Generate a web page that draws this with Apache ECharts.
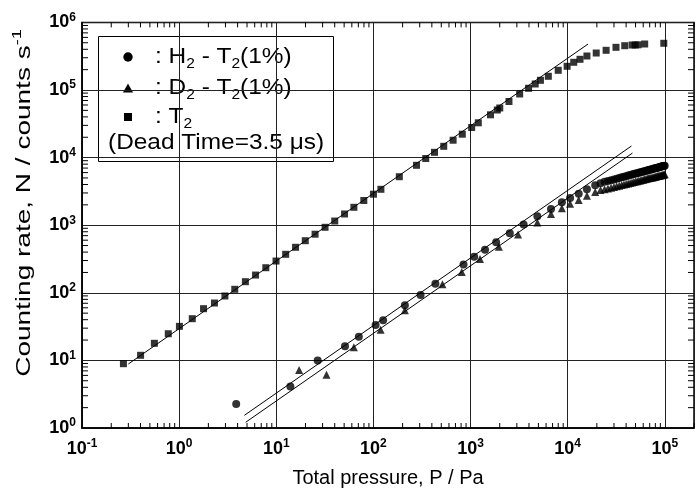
<!DOCTYPE html>
<html><head><meta charset="utf-8">
<script src="https://cdn.jsdelivr.net/npm/echarts@6/dist/echarts.min.js"></script>
<style>html,body{margin:0;padding:0;background:#fff}#c{width:697px;height:495px}</style>
</head><body><div id="c"></div>
<script>
const FONT = '"Liberation Sans", Arial, Helvetica, sans-serif';

// Tick label exponents
const xTickExponents = [-1, 0, 1, 2, 3, 4, 5];
const yTickExponents = [0, 1, 2, 3, 4, 5, 6];

// T2 (squares): [P / Pa, N / counts s^-1]
const t2Data = [[0.267,8.94],[0.401,11.9],[0.556,17.9],[0.773,24.8],[1.007,31.9],[1.366,41.4],[1.784,58.2],[2.31,70.6],[2.96,89.7],[3.74,112.7],[4.81,146],[6.12,183],[7.81,235],[9.95,295],[12.5,371],[15.8,471],[19.9,590],[25.1,736],[31.8,931],[40.0,1153],[50.5,1465],[63.0,1840],[79.7,2318],[100.2,2875],[119.5,3397],[185,5215],[278,7690],[346,9700],[426,11970],[530,14690],[662,18080],[823,22190],[1028,27880],[1203,32720],[1606,42960],[1888,50600],[2001,54200],[2489,67600],[3207,87300],[3962,106000],[4634,122700],[5248,139100],[6327,159500],[8000,195500],[9880,224300],[11560,257000],[13410,284500],[15800,318500],[19690,352500],[24900,386600],[31470,428000],[38720,452000],[46130,463000],[49550,463000],[53090,466000],[62130,479000],[97720,491000]];

// H2 - T2(1%) (circles)
const h2Data = [[3.87,2.26],[13.98,4.12],[26.7,10.0],[51.0,16.2],[70.8,22.4],[105.5,33.4],[126,39.2],[211,65.3],[306,92.8],[435,136],[847,262],[1091,341],[1411,434],[1835,558],[2537,759],[3523,1024],[4880,1359],[6745,1736],[8730,2182],[10600,2525],[13000,2924],[15800,3396],[19230,3893],[21780,4168],
[24000,4380],[26000,4500],[28000,4625],[30000,4750],[32000,4875],[34000,4990],[36000,5100],[38000,5210],[40000,5320],[42000,5420],[44000,5520],[46000,5610],[48000,5710],[50000,5800],[52000,5890],[54000,5970],[56000,6060],[58000,6140],[60000,6220],[62000,6300],[64000,6380],[66000,6460],[68000,6540],[70000,6610],[72000,6680],[74000,6750],[76000,6820],[78000,6890],[80000,6960],[82000,7030],[84000,7100],[86000,7160],[88000,7230],[90000,7290],[92000,7360],[94000,7420],[96000,7480],[98000,7540],[100000,7600]];

// D2 - T2(1%) (triangles)
const d2Data = [[17.2,7.21],[32.9,6.14],[63.0,15.6],[118.7,28.5],[211,55.1],[514,134],[813,203],[1252,316],[1960,481],[3089,729],[4880,1096],[6745,1465],[8730,1778],[10600,2080],[13000,2359],[15800,2732],[19230,3098],[21780,3317],
[24000,3396],[26000,3496],[28000,3590],[30000,3680],[32000,3765],[34000,3846],[36000,3927],[38000,4008],[40000,4074],[42000,4150],[44000,4217],[46000,4285],[48000,4355],[50000,4416],[52000,4477],[54000,4539],[56000,4603],[58000,4656],[60000,4710],[62000,4764],[64000,4819],[66000,4887],[68000,4932],[70000,4977],[72000,5035],[74000,5082],[76000,5129],[78000,5176],[80000,5224],[82000,5272],[84000,5321],[86000,5358],[88000,5408],[90000,5445],[92000,5495],[94000,5534],[96000,5585],[98000,5623],[100000,5662]];

// Fitted straight lines (N proportional to P)
const fitT2 = [[0.30,8.85],[16200,478000]];
const fitH2 = [[4.7,1.54],[45400,14840]];
const fitD2 = [[4.84,1.215],[46500,11670]];

// Minor tick values (2..9 x 10^k)
const xMinor = [], yMinor = [];
for (let k = -1; k <= 5; k++) for (let m = 2; m <= 9; m++) { const v = m * Math.pow(10, k); if (v <= 2e5) xMinor.push([v, 1]); }
for (let k = 0; k <= 5; k++) for (let m = 2; m <= 9; m++) yMinor.push([1, m * Math.pow(10, k)]);

function isExp(v, list) {
  const e = Math.log10(v); const r = Math.round(e);
  return Math.abs(e - r) < 1e-6 && list.indexOf(r) >= 0 ? r : null;
}
const labelRich = {
  b: { fontSize: 18, fontWeight: 'bold', fontFamily: FONT, color: '#000', lineHeight: 22 },
  e: { fontSize: 12, fontWeight: 'bold', fontFamily: FONT, color: '#000', lineHeight: 12, verticalAlign: 'top' }
};
const legendRich = {
  a: { fontSize: 22, fontFamily: FONT, color: '#000', lineHeight: 28 },
  s: { fontSize: 14, fontFamily: FONT, color: '#000', lineHeight: 17, verticalAlign: 'bottom' }
};

const chart = echarts.init(document.getElementById('c'), null, { renderer: 'canvas' });
const tickLine = (x1, y1, x2, y2) => ({ type: 'line', shape: { x1, y1, x2, y2 }, style: { stroke: '#000', lineWidth: 1 } });

chart.setOption({
  animation: false,
  backgroundColor: '#fff',
  grid: { left: 82, top: 22.4, right: -3.4, bottom: 67, show: true, borderColor: '#000', borderWidth: 1.5, backgroundColor: 'transparent' },
  xAxis: {
    type: 'log', logBase: 10, min: 0.1, max: 2e5,
    name: 'Total pressure, P / Pa', nameLocation: 'middle', nameGap: 40,
    nameTextStyle: { fontSize: 20, fontFamily: FONT, color: '#000' },
    axisLine: { show: true, lineStyle: { color: '#000', width: 1.5 } },
    axisTick: { show: false },
    splitLine: { show: true, lineStyle: { color: '#222', width: 1 } },
    axisLabel: {
      margin: 10, rich: labelRich,
      formatter: v => { const r = isExp(v, xTickExponents); return r === null ? '' : '{b|10}{e|' + r + '}'; }
    }
  },
  yAxis: {
    type: 'log', logBase: 10, min: 1, max: 1e6,
    axisLine: { show: true, lineStyle: { color: '#000', width: 1.5 } },
    axisTick: { show: false },
    splitLine: { show: true, lineStyle: { color: '#222', width: 1 } },
    axisLabel: {
      margin: 6, rich: labelRich,
      formatter: v => { const r = isExp(v, yTickExponents); return r === null ? '' : '{b|10}{e|' + r + '}'; }
    }
  },
  series: [
    { type: 'line', data: fitT2, symbol: 'none', lineStyle: { color: '#000', width: 1 }, z: 3 },
    { type: 'line', data: fitH2, symbol: 'none', lineStyle: { color: '#000', width: 1 }, z: 3 },
    { type: 'line', data: fitD2, symbol: 'none', lineStyle: { color: '#000', width: 1 }, z: 3 },
    { name: 'T2', type: 'scatter', data: t2Data, symbol: 'rect', symbolSize: 7, itemStyle: { color: '#000' }, z: 4 },
    { name: 'D2 - T2(1%)', type: 'scatter', data: d2Data, symbol: 'triangle', symbolSize: 8, itemStyle: { color: '#000' }, z: 4 },
    { name: 'H2 - T2(1%)', type: 'scatter', data: h2Data, symbol: 'circle', symbolSize: 8, itemStyle: { color: '#000' }, z: 4 },
    { type: 'custom', data: xMinor, silent: true, z: 5, clip: false,
      renderItem: (params, api) => {
        const cs = params.coordSys; const p = api.coord([api.value(0), api.value(1)]);
        const b = cs.y + cs.height;
        return { type: 'group', children: [tickLine(p[0], b, p[0], b - 5), tickLine(p[0], cs.y, p[0], cs.y + 5)] };
      } },
    { type: 'custom', data: yMinor, silent: true, z: 5, clip: false,
      renderItem: (params, api) => {
        const cs = params.coordSys; const p = api.coord([api.value(0), api.value(1)]);
        const r = cs.x + cs.width;
        return { type: 'group', children: [tickLine(cs.x, p[1], cs.x + 6, p[1]), tickLine(r, p[1], r - 6, p[1])] };
      } }
  ],
  graphic: [
    { type: 'text', x: 24, y: 203, rotation: Math.PI / 2, scaleX: 1.4, z: 50,
      style: { text: '{t|Counting rate, N / counts s}{e|-1}', align: 'center', verticalAlign: 'middle',
        rich: { t: { fontSize: 20, fontFamily: FONT, color: '#000', lineHeight: 26 },
                e: { fontSize: 13, fontFamily: FONT, color: '#000', lineHeight: 13, verticalAlign: 'top' } } } },
    { type: 'group', z: 100, children: [
      { type: 'rect', shape: { x: 98.5, y: 36.5, width: 235, height: 125 }, style: { fill: '#fff', stroke: '#000', lineWidth: 1 } },
      { type: 'circle', shape: { cx: 128, cy: 57, r: 4.7 }, style: { fill: '#000' } },
      { type: 'polygon', shape: { points: [[123, 92.5], [133, 92.5], [128, 83.5]] }, style: { fill: '#000' } },
      { type: 'rect', shape: { x: 124, y: 113, width: 8, height: 8 }, style: { fill: '#000' } },
      { type: 'text', x: 155, y: 57, scaleX: 1.11, style: { text: '{a|: H}{s|2}{a| - T}{s|2}{a|(1%)}', verticalAlign: 'middle', align: 'left', rich: legendRich } },
      { type: 'text', x: 155, y: 88, scaleX: 1.11, style: { text: '{a|: D}{s|2}{a| - T}{s|2}{a|(1%)}', verticalAlign: 'middle', align: 'left', rich: legendRich } },
      { type: 'text', x: 155, y: 117, scaleX: 1.11, style: { text: '{a|: T}{s|2}', verticalAlign: 'middle', align: 'left', rich: legendRich } },
      { type: 'text', x: 108, y: 142.5, scaleX: 1.11, style: { text: '(Dead Time=3.5 μs)', verticalAlign: 'middle', align: 'left', fontSize: 22, fontFamily: FONT, fill: '#000' } }
    ] }
  ]
});
</script></body></html>
